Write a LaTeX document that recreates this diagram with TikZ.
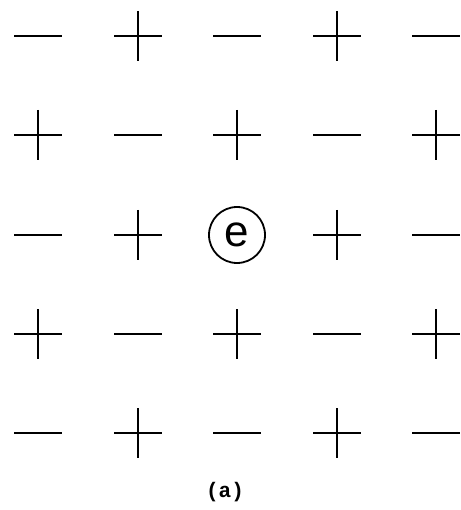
\documentclass[tikz,border=0pt]{standalone}
\usepackage{fontspec}
\newfontfamily\signfont{Liberation Sans}
\newfontfamily\capfont{Liberation Mono}
\usepackage{tikz}
\usetikzlibrary{positioning,calc}

\tikzset{
 stroke/.style={line width=2.8pt, line cap=butt},
 charge/.style={circle, draw, line width=1.8pt, minimum size=56pt, inner sep=0pt,
  font=\signfont\fontsize{44}{44}\selectfont},
 caption/.style={font=\capfont\bfseries\fontsize{21}{21}\selectfont}
}

\begin{document}
\begin{tikzpicture}[x=1pt, y=-1pt]
\useasboundingbox (0,0) rectangle (460,510);

% Lattice sites
\foreach \r/\yy in {0/36, 1/135, 2/235, 3/334, 4/433} {
 \foreach \c/\xx in {0/38, 1/138, 2/237, 3/337, 4/436} {
  \coordinate (s\r\c) at (\xx,\yy);
 }
}

% Alternating signs
\foreach \r in {0,...,4} {
 \foreach \c in {0,...,4} {
  \pgfmathtruncatemacro{\oddsite}{mod(\r+\c,2)}
  \pgfmathtruncatemacro{\centre}{(\r==2)&&(\c==2)}
  \ifnum\centre=0
   \draw[stroke] ($(s\r\c)+(-24,0)$) -- ($(s\r\c)+(24,0)$);
   \ifnum\oddsite=1
    \draw[stroke] ($(s\r\c)+(0,-25)$) -- ($(s\r\c)+(0,25)$);
   \fi
  \fi
 }
}

% Electron
\node[charge] (elec) at (s22) {e};

% Label
\node[caption] (lbl) at (225,492) {(a)};
\end{tikzpicture}
\end{document}
